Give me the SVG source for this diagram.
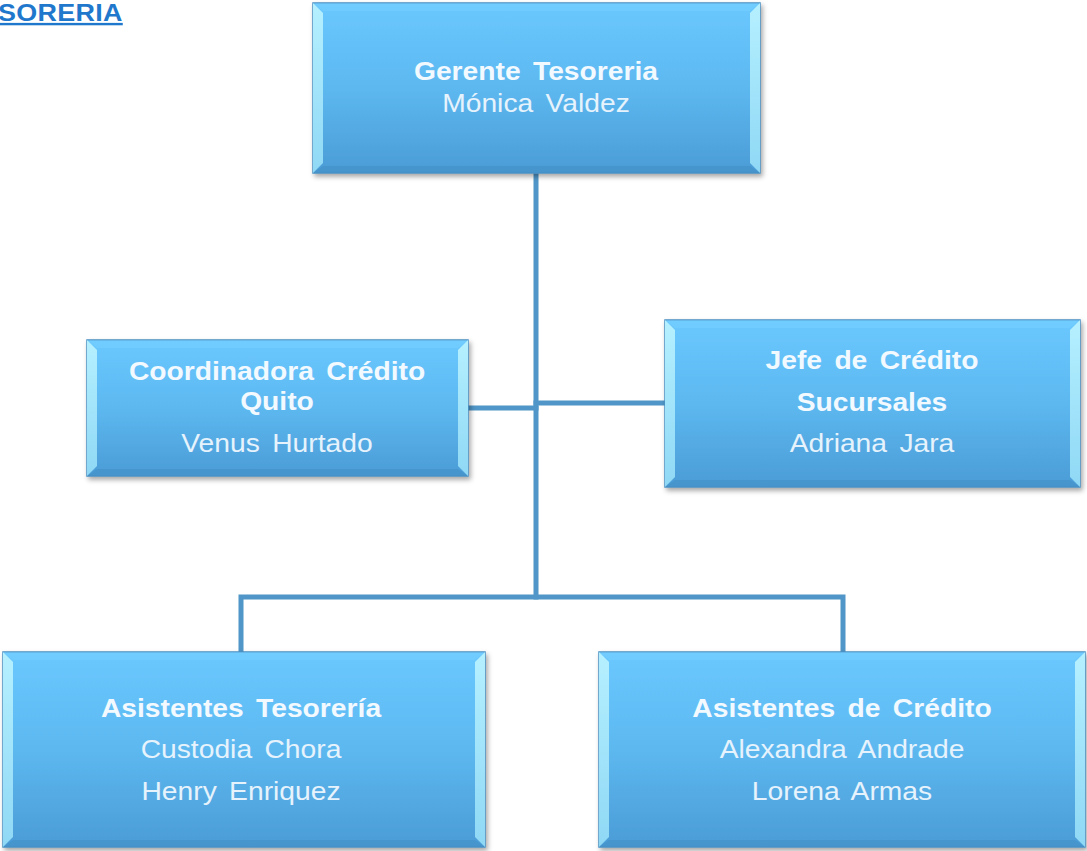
<svg xmlns="http://www.w3.org/2000/svg" width="1087" height="851" viewBox="0 0 1087 851">
<defs>
<linearGradient id="fill" x1="0" y1="0" x2="0" y2="1">
<stop offset="0" stop-color="#6ac8ff"/>
<stop offset="0.5" stop-color="#5db8f0"/>
<stop offset="1" stop-color="#4b9cd6"/>
</linearGradient>
<linearGradient id="side" x1="0" y1="0" x2="0" y2="1">
<stop offset="0" stop-color="#b5f0ff"/>
<stop offset="1" stop-color="#8fd8f5"/>
</linearGradient>
<filter id="sh" x="-5%" y="-5%" width="110%" height="115%">
<feDropShadow dx="2" dy="3" stdDeviation="2.5" flood-color="#000" flood-opacity="0.35"/>
</filter>
<style>
.box{fill:url(#fill);stroke:#4a90c2;stroke-width:1.5;filter:url(#sh)}
.side{fill:url(#side)}
.top{fill:#78d0ff;opacity:0.5}
.bot{fill:#4590c6;opacity:0.6}
.b{font-family:"Liberation Sans",Arial,sans-serif;font-weight:bold;font-size:25px;fill:#f2f9ff;text-anchor:middle;word-spacing:4px}
.r{font-family:"Liberation Sans",Arial,sans-serif;font-size:25px;fill:#e6f3fc;text-anchor:middle;word-spacing:4px}
.ln{stroke:#5096c8;stroke-width:5;fill:none;stroke-linecap:square}
</style>
</defs>
<rect width="1087" height="851" fill="#ffffff"/>
<g transform="translate(-2 0) scale(1.12 1)">
<text x="0" y="21" font-family="Liberation Sans,Arial,sans-serif" font-weight="bold" font-size="24" letter-spacing="0.3" fill="#1f78cc" text-decoration="underline">SORERIA</text>
</g>
<g id="connectors">
<path class="ln" d="M536 173 V597"/>
<path class="ln" d="M468 408 H536"/>
<path class="ln" d="M536 403 H665"/>
<path class="ln" d="M241 652 V597 H843 V652"/>
</g>
<g id="n1">
<rect class="box" x="313" y="3" width="447" height="170"/>
<polygon class="top" points="313,3 760,3 750,11 323,11"/>
<polygon class="bot" points="313,173 760,173 750,166 323,166"/>
<polygon class="side" points="313,3 323,13 323,163 313,173"/>
<polygon class="side" points="760,3 750,13 750,163 760,173"/>
<g transform="translate(536 0) scale(1.13 1)">
<text class="b" x="0" y="80">Gerente Tesoreria</text>
<text class="r" x="0" y="112">Mónica Valdez</text>
</g>
</g>
<g id="n2">
<rect class="box" x="87" y="340" width="381" height="136"/>
<polygon class="top" points="87,340 468,340 458,348 97,348"/>
<polygon class="bot" points="87,476 468,476 458,469 97,469"/>
<polygon class="side" points="87,340 97,350 97,466 87,476"/>
<polygon class="side" points="468,340 458,350 458,466 468,476"/>
<g transform="translate(277 0) scale(1.13 1)">
<text class="b" x="0" y="380">Coordinadora Crédito</text>
<text class="b" x="0" y="410">Quito</text>
<text class="r" x="0" y="452">Venus Hurtado</text>
</g>
</g>
<g id="n3">
<rect class="box" x="665" y="320" width="415" height="167"/>
<polygon class="top" points="665,320 1080,320 1070,328 675,328"/>
<polygon class="bot" points="665,487 1080,487 1070,480 675,480"/>
<polygon class="side" points="665,320 675,330 675,477 665,487"/>
<polygon class="side" points="1080,320 1070,330 1070,477 1080,487"/>
<g transform="translate(872 0) scale(1.13 1)">
<text class="b" x="0" y="369">Jefe de Crédito</text>
<text class="b" x="0" y="411">Sucursales</text>
<text class="r" x="0" y="452">Adriana Jara</text>
</g>
</g>
<g id="n4">
<rect class="box" x="3" y="652" width="482" height="195"/>
<polygon class="top" points="3,652 485,652 475,660 13,660"/>
<polygon class="bot" points="3,847 485,847 475,840 13,840"/>
<polygon class="side" points="3,652 13,662 13,837 3,847"/>
<polygon class="side" points="485,652 475,662 475,837 485,847"/>
<g transform="translate(241 0) scale(1.13 1)">
<text class="b" x="0" y="717">Asistentes  Tesorería</text>
<text class="r" x="0" y="758">Custodia  Chora</text>
<text class="r" x="0" y="800">Henry Enriquez</text>
</g>
</g>
<g id="n5">
<rect class="box" x="599" y="652" width="486" height="195"/>
<polygon class="top" points="599,652 1085,652 1075,660 609,660"/>
<polygon class="bot" points="599,847 1085,847 1075,840 609,840"/>
<polygon class="side" points="599,652 609,662 609,837 599,847"/>
<polygon class="side" points="1085,652 1075,662 1075,837 1085,847"/>
<g transform="translate(842 0) scale(1.13 1)">
<text class="b" x="0" y="717">Asistentes de Crédito</text>
<text class="r" x="0" y="758">Alexandra  Andrade</text>
<text class="r" x="0" y="800">Lorena Armas</text>
</g>
</g>
</svg>
